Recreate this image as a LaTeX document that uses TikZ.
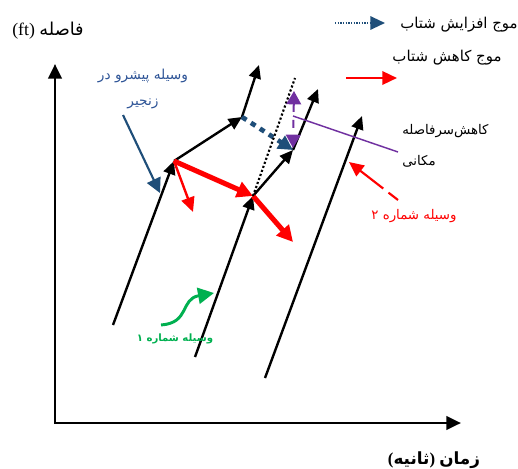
\documentclass[tikz,border=0pt]{standalone}
\usepackage{fontspec}
\usepackage{tikz}
\usetikzlibrary{arrows.meta, positioning}
\setmainfont{Liberation Serif}
\newfontfamily\farsi[Script=Arabic]{DejaVu Sans}
\TeXXeTstate=1
\definecolor{WaveBlue}{HTML}{1F4E79}
\definecolor{LeadBlue}{HTML}{2F5597}
\definecolor{GapPurple}{HTML}{7030A0}
\definecolor{CarGreen}{HTML}{00B050}

\begin{document}
\begin{tikzpicture}[x=0.75pt, y=-0.75pt,
  axis/.style={line width=2.2pt, {Triangle[length=11pt,width=10pt]}-{Triangle[length=11pt,width=10pt]}},
  traj/.style={line width=1.8pt, -{Triangle[length=10pt,width=9pt]}},
  brake/.style={red, line width=3.8pt, -{Triangle[length=12pt,width=12pt]}},
  txt/.style={font=\farsi\fontsize{10}{12}\selectfont, inner sep=0pt, align=center}]
\useasboundingbox (0,0) rectangle (518,468);

% axes
\coordinate (ytip) at (55,64);
\coordinate (origin) at (55,423);
\coordinate (xtip) at (461,423);
\draw[axis] (ytip) -- (origin) -- (xtip);
\node (ylab) at (48,31) {\fontsize{13.3}{15}\selectfont (ft) \mbox{\farsi\beginR فاصله\endR}};
\node[inner sep=0pt] (xlab) at (434,460)
  {\fontsize{12.6}{14}\selectfont\bfseries \mbox{(}\mbox{\farsi\beginR ثانیه\endR}\mbox{)}\ \mbox{\farsi\beginR زمان\endR}};

% vehicle trajectories
\coordinate (v1a) at (113,325);
\coordinate (v1b) at (174,161);
\coordinate (v1c) at (242,117);
\coordinate (v1d) at (259,65);
\coordinate (v2a) at (195,357);
\coordinate (v2b) at (253,196);
\coordinate (v2c) at (293,150);
\coordinate (v2d) at (318,89);
\coordinate (v3a) at (265,378);
\coordinate (v3b) at (362,116);
\draw[traj] (v1a) -- (v1b);
\draw[traj] (v1b) -- (v1c);
\draw[traj] (v1c) -- (v1d);
\draw[traj] (v2a) -- (v2b);
\draw[traj] (v2b) -- (v2c);
\draw[traj] (v2c) -- (v2d);
\draw[traj] (v3a) -- (v3b);

% waves
\coordinate (slowend) at (293,242);
\coordinate (slowfoot) at (193,212);
\coordinate (dottop) at (295,78);
\draw[brake] (v1b) -- (v2b);
\draw[brake] (v2b) -- (slowend);
\draw[red, line width=1.8pt, -{Triangle[length=11pt,width=10pt]}] (v1b) -- (slowfoot);
\draw[WaveBlue, line width=3.5pt, dash pattern=on 4pt off 4pt, -{Triangle[length=11pt,width=11pt]}] (v1c) -- (v2c);
\draw[line width=1.6pt, dash pattern=on 1.6pt off 1.6pt] (v2b) -- (dottop);

% gap reduction
\coordinate (gaptop) at (294,91);
\coordinate (gapbot) at (293,148);
\coordinate (leadstart) at (293,116);
\coordinate (leadend) at (398,152);
\draw[GapPurple, line width=1.5pt, dash pattern=on 6pt off 6pt, {Triangle[length=10pt,width=11pt]}-{Triangle[length=10pt,width=11pt]}] (gaptop) -- (gapbot);
\draw[GapPurple, line width=1.1pt] (leadstart) -- (leadend);
\node[txt, anchor=west, align=left, font=\farsi\fontsize{10}{23}\selectfont] (gapnote) at (402,146)
  {\beginR کاهش‌سرفاصله\endR\\ \beginR مکانی\endR};

% leader label
\node[txt, text=LeadBlue, font=\farsi\fontsize{10.3}{19.5}\selectfont] (leader) at (143,89)
  {\beginR وسیله پیشرو در\endR\\ \beginR زنجیر\endR};
\coordinate (leadtail) at (123,115);
\coordinate (leadtip) at (160,193);
\draw[WaveBlue, line width=1.6pt, -{Triangle[length=11pt,width=11pt]}] (leadtail) -- (leadtip);

% vehicle 2 label
\node[txt, text=red] (car2) at (414,216) {\beginR وسیله شماره ۲\endR};
\coordinate (car2tail) at (398,200);
\coordinate (car2tip) at (349,162);
\draw[red, line width=1.6pt, dash pattern=on 9pt off 5pt on 60pt, -{Triangle[length=11pt,width=10pt]}] (car2tail) -- (car2tip);

% vehicle 1 label
\node[txt, text=CarGreen, font=\farsi\bfseries\fontsize{7.6}{10}\selectfont] (car1) at (175,339) {\beginR وسیله شماره ۱\endR};
\coordinate (car1tail) at (161,325);
\coordinate (car1tip) at (214,293);
\draw[CarGreen, line width=2.2pt, -{Triangle[length=12pt,width=12pt]}] (car1tail) .. controls (190,323) and (180,299) .. (car1tip);

% legend
\node[txt, font=\farsi\fontsize{11.2}{13}\selectfont] (legup) at (459,25) {\beginR موج افزایش شتاب\endR};
\node[txt, font=\farsi\fontsize{11.2}{13}\selectfont] (legdown) at (447,58) {\beginR موج کاهش شتاب\endR};
\coordinate (legupa) at (335,23);
\coordinate (legupb) at (385,23);
\coordinate (legdowna) at (346,78);
\coordinate (legdownb) at (397,78);
\draw[WaveBlue, line width=1.6pt, dash pattern=on 1pt off 1pt, -{Triangle[length=11pt,width=10pt]}] (legupa) -- (legupb);
\draw[red, line width=1.8pt, -{Triangle[length=11pt,width=10pt]}] (legdowna) -- (legdownb);
\end{tikzpicture}
\end{document}
